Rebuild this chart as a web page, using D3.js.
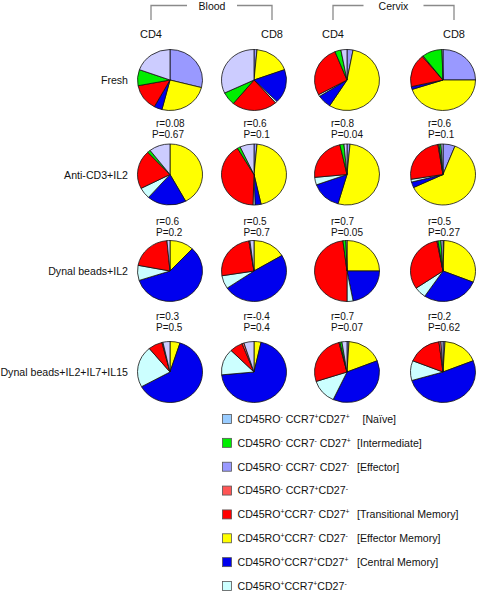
<!DOCTYPE html>
<html><head><meta charset="utf-8">
<script src="https://cdn.jsdelivr.net/npm/d3@7"></script>
<style>body{margin:0;background:#fff}svg{display:block}text{font-family:"Liberation Sans",Arial,Helvetica,sans-serif;fill:#111}</style>
</head><body><svg id="c" width="477" height="591"></svg>
<script>
// ---------- DATA ----------
const conditions = ["Fresh", "Anti-CD3+IL2", "Dynal beads+IL2", "Dynal beads+IL2+IL7+IL15"];
const tissues = ["Blood", "Cervix"];
const columns = ["Blood CD4", "Blood CD8", "Cervix CD4", "Cervix CD8"];
const columnLabels = ["CD4", "CD8", "CD4", "CD8"];
// category names (legend order)
const categories = ["naive", "intermediate", "effector", "roNegCcr7PosCd27Neg", "transitional", "effectorMemory", "centralMemory", "roPosCcr7PosCd27Neg"];
const legendLabels = [
  "CD45RO^- CCR7^+CD27^+  [Naïve]",
  "CD45RO^- CCR7^- CD27^+  [Intermediate]",
  "CD45RO^- CCR7^- CD27^-  [Effector]",
  "CD45RO^- CCR7^+CD27^-",
  "CD45RO^+CCR7^- CD27^+  [Transitional Memory]",
  "CD45RO^+CCR7^- CD27^-  [Effector Memory]",
  "CD45RO^+CCR7^+CD27^+  [Central Memory]",
  "CD45RO^+CCR7^+CD27^-"
];
// % values, one per pie, row-major (condition x column)
const naive               = [19.5, 32, 3, 0.5,   10.5, 7, 1.5, 1,   1.5, 2, 0.5, 1,   3.5, 5, 2.5, 1];
const intermediate        = [8.5, 7, 3, 10,      1.5, 1.5, 2, 1,    0, 0, 1.5, 1.5,   0, 0, 1, 0];
const effector            = [29, 1.5, 3, 25,     0, 1.5, 1.5, 6,    0, 0, 0, 0.5,     0, 0, 1, 1];
const roNegCcr7PosCd27Neg = [0, 0, 0, 0.5,       0, 0, 0, 0.5,      0, 0.5, 0, 0.5,   0.5, 1, 0.5, 1];
const transitional        = [14, 22.5, 27, 17.5, 20.5, 41, 23, 25,  20.5, 25, 48, 31.5, 7, 6.5, 26, 17];
const effectorMemory      = [25, 18, 56, 45,     42, 45, 53, 62,    12, 16.5, 25, 30.5, 5, 3.5, 18, 18];
const centralMemory       = [4, 18, 7, 1.5,      19.5, 3, 15, 3,    58, 49, 22, 28.5, 62, 70, 38, 51.5];
const roPosCcr7PosCd27Neg = [0, 1, 1, 0,         6, 1, 4, 1.5,      8, 7, 3, 6,       22, 14, 13, 10.5];
const rValues = ["r=0.08","r=0.6","r=0.8","r=0.6", "r=0.6","r=0.5","r=0.7","r=0.5", "r=0.3","r=-0.4","r=0.7","r=0.2"];
const pValues = ["P=0.67","P=0.1","P=0.04","P=0.1", "P=0.2","P=0.7","P=0.05","P=0.27", "P=0.5","P=0.4","P=0.07","P=0.62"];

// ---------- STYLE / LAYOUT ----------
const seriesValues = {naive, intermediate, effector, roNegCcr7PosCd27Neg, transitional, effectorMemory, centralMemory, roPosCcr7PosCd27Neg};
const pieColor = d3.scaleOrdinal().domain(categories)
  .range(["#ccccff", "#00ee00", "#9999ff", "#ff5555", "#ff0000", "#ffff00", "#0000ee", "#ccffff"]);
const legendColor = d3.scaleOrdinal().domain(categories)
  .range(["#99ccff", "#00ee00", "#9999ff", "#ff5555", "#ff0000", "#ffff00", "#0000ee", "#ccffff"]);
// clockwise drawing order starting at 12 o'clock
const drawOrder = ["effector", "effectorMemory", "centralMemory", "roPosCcr7PosCd27Neg", "transitional", "roNegCcr7PosCd27Neg", "intermediate", "naive"];

const svg = d3.select("#c");
const x = d3.scaleOrdinal().domain(columns).range([170, 254, 347, 443]);
const y = d3.scaleOrdinal().domain(conditions).range([80, 174.5, 271, 372]);
const statX = d3.scaleOrdinal().domain(columns).range([156, 243.5, 331, 428]);
const statRY = [126.5, 224.5, 320];
const statPY = [138, 236, 330.5];
const rx = 32.5, ry = 30.5;

// header brackets
const bracket = [{t: "Blood", x0: 151, x1: 272, cx: 212}, {t: "Cervix", x0: 333, x1: 454, cx: 393.5}];
bracket.forEach((b, i) => {
  const g = svg.append("g");
  const tw = b.t === "Blood" ? 50 : 60;
  g.append("path").attr("d", `M${b.x0},20V5.5H${b.cx - tw/2}M${b.cx + tw/2},5.5H${b.x1}V20`)
    .attr("fill", "none").attr("stroke", "#8a8a8a").attr("stroke-width", 1.3);
  g.append("text").attr("x", b.cx).attr("y", 9.5).attr("text-anchor", "middle").attr("font-size", 10.5).text(tissues[i]);
});
const hdrX = [151, 272, 333, 454];
columns.forEach((c, i) => {
  svg.append("text").attr("x", hdrX[i]).attr("y", 37.5).attr("text-anchor", "middle").attr("font-size", 11).text(columnLabels[i]);
});

// row labels
conditions.forEach(c => {
  svg.append("text").attr("x", 128).attr("y", y(c) + 4).attr("text-anchor", "end").attr("font-size", 10.6).text(c);
});

// pies
const pie = d3.pie().sort(null).value(d => d.v);
const arc = d3.arc().innerRadius(0).outerRadius(rx);
conditions.forEach((cond, ri) => {
  columns.forEach((col, ci) => {
    const idx = ri * 4 + ci;
    const data = drawOrder.map(k => ({k, v: seriesValues[k][idx]})).filter(d => d.v > 0);
    const g = svg.append("g").attr("transform", `translate(${x(col)},${y(cond)}) scale(1,${ry/rx})`);
    g.selectAll("path").data(pie(data)).join("path")
      .attr("d", arc).attr("fill", d => pieColor(d.data.k))
      .attr("stroke", "#111").attr("stroke-width", 0.8).attr("stroke-linejoin", "round")
      .attr("vector-effect", "non-scaling-stroke");
  });
});

// stats
rValues.forEach((r, i) => {
  const gap = Math.floor(i / 4), col = columns[i % 4];
  svg.append("text").attr("x", statX(col)).attr("y", statRY[gap]).attr("font-size", 10).text(r);
  svg.append("text").attr("x", statX(col) - (i === 0 ? 4 : 0)).attr("y", statPY[gap]).attr("font-size", 10).text(pValues[i]);
});

// legend
const ly = d3.scalePoint().domain(categories).range([419, 586]);
categories.forEach((k, i) => {
  const g = svg.append("g").attr("transform", `translate(0,${ly(k)})`);
  g.append("rect").attr("x", 222.5).attr("y", -4.5).attr("width", 9).attr("height", 9)
    .attr("fill", legendColor(k)).attr("stroke", "#555").attr("stroke-width", 0.8);
  const [code, tag] = legendLabels[i].split("  ");
  const t = g.append("text").attr("x", 237.5).attr("y", 3.8).attr("font-size", 10.6);
  let shift = 0;
  code.split(/(\^[+-])/).filter(p => p).forEach(part => {
    if (part[0] === "^") {
      t.append("tspan").attr("dy", -3.8 - shift).attr("font-size", 6.8).text(part[1]);
      shift = -3.8;
    } else {
      t.append("tspan").attr("dy", -shift).text(part);
      shift = 0;
    }
  });
  if (tag) {
    g.append("text").attr("x", k === "naive" ? 362.5 : 357).attr("y", 3.8).attr("font-size", 10.6).text(tag);
  }
});
</script></body></html>
